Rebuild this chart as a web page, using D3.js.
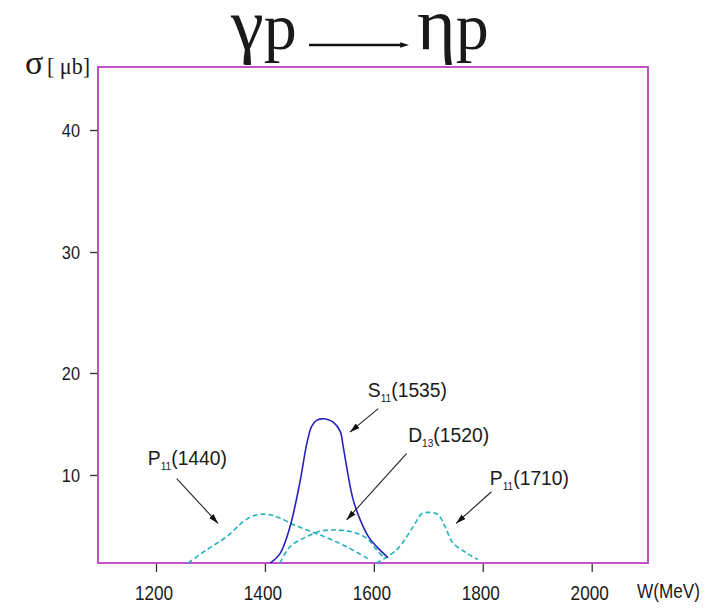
<!DOCTYPE html>
<html>
<head>
<meta charset="utf-8">
<script src="https://cdn.jsdelivr.net/npm/d3@7"></script>
<style>
  body { margin: 0; background: #fff; }
  text { font-family: "Liberation Sans", Arial, sans-serif; fill: #1a1a1a; }
</style>
</head>
<body>
<svg id="chart" width="721" height="608"></svg>
<script>
// ---- data: gamma p -> eta p, resonance contributions (sigma in microbarn vs W in MeV)
const xTicks = [1200, 1400, 1600, 1800, 2000];
const yTicks = [10, 20, 30, 40];

const p1440W     = [1259, 1293, 1330, 1360, 1378, 1396, 1412, 1428, 1458, 1501, 1550, 1593];
const p1440Sigma = [0, 1.5, 3.0, 4.7, 5.35, 5.55, 5.45, 5.1, 4.2, 3.2, 1.85, 0.35];

const s1535W     = [1410, 1428, 1446, 1464, 1477, 1486, 1495, 1504, 1515, 1525, 1538, 1544, 1552, 1562, 1575, 1590, 1606, 1626];
const s1535Sigma = [0, 1.1, 4.1, 9.1, 13.1, 14.8, 15.35, 15.5, 15.45, 15.2, 14.3, 12.7, 10.2, 7.2, 4.9, 3.0, 1.8, 0.6];

const d1520W     = [1428, 1446, 1477, 1501, 1532, 1562, 1587, 1605, 1620];
const d1520Sigma = [0, 1.85, 3.0, 3.6, 3.75, 3.5, 2.8, 1.5, 0.5];

const p1710W     = [1605, 1642, 1672, 1688, 1703, 1718, 1731, 1745, 1770, 1791];
const p1710Sigma = [0, 1.5, 4.1, 5.6, 5.75, 5.5, 4.1, 2.3, 1.15, 0.4];

// resonance labels: letter, subscript, mass
const resLetter = ["P", "S", "D", "P"];
const resSub    = ["11", "11", "13", "11"];
const resMass   = ["(1440)", "(1535)", "(1520)", "(1710)"];
// label anchors and pointer arrows, in data units [W, sigma]
const labelAt   = [[1185, 11.0], [1589, 17.6], [1663, 13.2], [1813, 8.9]];
const arrowFrom = [[1238, 9.6], [1608, 16.5], [1660, 12.1], [1816, 8.1]];
const arrowTo   = [[1314, 4.5], [1556, 14.2], [1550, 4.9], [1751, 4.5]];

// ---- layout
const plotLeft = 98, plotRight = 648, plotTop = 67, plotBottom = 563;
const svg = d3.select("#chart");

const x = d3.scaleLinear().domain([1093.5, 2103.4]).range([plotLeft, plotRight]);
// the vertical axis is stretched piecewise between its labelled ticks
const y = d3.scaleLinear()
  .domain([0, 10, 20, 30, 40, 45.2])
  .range([plotBottom, 475, 373, 252, 130, plotTop]);

const frameColor = "#bf3cc4";

const defs = svg.append("defs");
defs.append("marker")
  .attr("id", "head").attr("viewBox", "0 0 10 6")
  .attr("refX", 10).attr("refY", 3)
  .attr("markerWidth", 10).attr("markerHeight", 6)
  .attr("markerUnits", "userSpaceOnUse")
  .attr("orient", "auto")
  .append("path").attr("d", "M0,0 L10,3 L0,6 Z").attr("fill", "#111");
defs.append("marker")
  .attr("id", "titlehead").attr("viewBox", "0 0 10 6")
  .attr("refX", 2).attr("refY", 3)
  .attr("markerWidth", 9).attr("markerHeight", 6)
  .attr("markerUnits", "userSpaceOnUse")
  .attr("orient", "auto")
  .append("path").attr("d", "M0,0 L10,3 L0,6 Z").attr("fill", "#111");

// condensed text helper
function label(g, px, py, anchor, size, squeeze) {
  return g.append("g").attr("transform", `translate(${px},${py}) scale(${squeeze},1)`)
    .append("text").attr("text-anchor", anchor).attr("font-size", size);
}

// ---- axes
const xAxis = d3.axisBottom(x).tickValues(xTicks).tickSize(9).tickFormat("");
const gx = svg.append("g").attr("transform", `translate(0,${plotBottom})`).call(xAxis);
gx.select(".domain").remove();
gx.selectAll(".tick line").attr("stroke", "#333").attr("stroke-width", 1.3);
xTicks.forEach(v => label(svg, x(v) - 2, 600, "middle", 20, 0.86).text(String(v)));
label(svg, 637, 598, "start", 20, 0.86).text("W(MeV)");

const yAxis = d3.axisLeft(y).tickValues(yTicks).tickSize(8).tickFormat("");
const gy = svg.append("g").attr("transform", `translate(${plotLeft},0)`).call(yAxis);
gy.select(".domain").remove();
gy.selectAll(".tick line").attr("stroke", "#333").attr("stroke-width", 1.3);
yTicks.forEach(v => label(svg, 80, y(v) + 7, "end", 19, 0.86).text(String(v)));

// frame
svg.append("rect")
  .attr("x", plotLeft).attr("y", plotTop)
  .attr("width", plotRight - plotLeft).attr("height", plotBottom - plotTop)
  .attr("fill", "none").attr("stroke", frameColor).attr("stroke-width", 1.8);

// axis title sigma [mu b]
const serif = "'Liberation Serif', 'Times New Roman', serif";
svg.append("text").attr("x", 25).attr("y", 74)
  .style("font-family", serif)
  .attr("font-size", 34).text("σ");
svg.append("g").attr("transform", "translate(47,74) scale(0.92,1)")
  .append("text")
  .style("font-family", serif)
  .attr("font-size", 24).text("[ μb]");

// ---- title
const t1 = svg.append("text").attr("x", 231).attr("y", 49).style("font-family", serif);
t1.append("tspan").attr("font-size", 74).text("γ");
t1.append("tspan").attr("font-size", 66).text("p");
svg.append("line").attr("x1", 309).attr("x2", 402).attr("y1", 45).attr("y2", 45)
  .attr("stroke", "#111").attr("stroke-width", 2.6).attr("marker-end", "url(#titlehead)");
const t2 = svg.append("text").attr("x", 417).attr("y", 49).style("font-family", serif);
t2.append("tspan").attr("font-size", 74).text("η");
t2.append("tspan").attr("font-size", 66).text("p");

// ---- curves
const line = d3.line().x(d => x(d[0])).y(d => y(d[1])).curve(d3.curveCatmullRom.alpha(0.5));
const plot = svg.append("g");
function curve(ws, ss, color, dash) {
  plot.append("path")
    .datum(d3.zip(ws, ss))
    .attr("d", line)
    .attr("fill", "none")
    .attr("stroke", color)
    .attr("stroke-width", 1.6)
    .attr("stroke-dasharray", dash);
}
const cyan = "#22b4b8", blue = "#2424b8";
curve(p1440W, p1440Sigma, cyan, "5,3");
curve(d1520W, d1520Sigma, cyan, "5,3");
curve(p1710W, p1710Sigma, cyan, "5,3");
curve(s1535W, s1535Sigma, blue, null);

// ---- resonance labels and pointers
resLetter.forEach((letter, i) => {
  const [lw, ls] = labelAt[i];
  const t = label(svg, x(lw), y(ls), "start", 21, 0.92);
  t.append("tspan").text(letter);
  t.append("tspan").attr("font-size", 11).attr("dy", 5).text(resSub[i]);
  t.append("tspan").attr("dy", -5).text(resMass[i]);

  svg.append("line")
    .attr("x1", x(arrowFrom[i][0])).attr("y1", y(arrowFrom[i][1]))
    .attr("x2", x(arrowTo[i][0])).attr("y2", y(arrowTo[i][1]))
    .attr("stroke", "#222").attr("stroke-width", 1.1)
    .attr("marker-end", "url(#head)");
});
</script>
</body>
</html>
